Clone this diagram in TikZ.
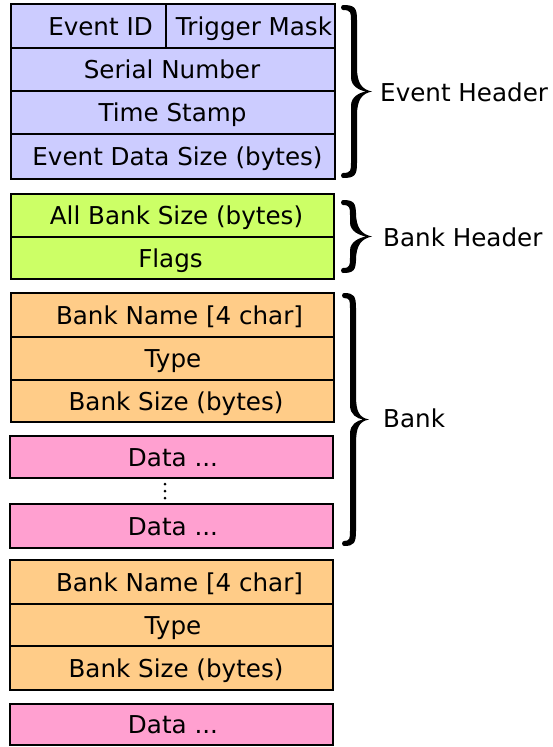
\documentclass[tikz,border=0pt]{standalone}
\usepackage{fontspec}
\setmainfont{DejaVu Sans}
\definecolor{evhead}{HTML}{CCCCFF}
\definecolor{bkhead}{HTML}{CCFF66}
\definecolor{bkfield}{HTML}{FFCC88}
\definecolor{bkdata}{HTML}{FFA0D0}
% A filled right-pointing curly brace, thick in the body, with rounded hook ends.
% #1 x of the hook ends, #2 x of the body centre, #3 x of the tip, #4 top y, #5 bottom y
\newcommand{\sidebrace}[5]{%
  \pgfmathsetmacro{\bym}{(#4+#5)/2}%
  \fill ({#1},{#4})
    .. controls ({#2+1},{#4}) and ({#2+3},{#4+3}) .. ({#2+3},{#4+15})
    -- ({#2+3},{\bym-24})
    .. controls ({#2+3},{\bym-8}) and ({#3-10},{\bym-2}) .. ({#3},{\bym})
    .. controls ({#3-10},{\bym+2}) and ({#2+3},{\bym+8}) .. ({#2+3},{\bym+24})
    -- ({#2+3},{#5-15})
    .. controls ({#2+3},{#5-3}) and ({#2+1},{#5}) .. ({#1},{#5})
    .. controls ({#1-2.5},{#5}) and ({#1-2.5},{#5-5}) .. ({#1},{#5-5})
    .. controls ({#2-3},{#5-5}) and ({#2-3},{#5-8}) .. ({#2-3},{#5-15})
    -- ({#2-3},{\bym+14})
    .. controls ({#2-3},{\bym+5}) and ({#3-12},{\bym+1}) .. ({#3-6},{\bym})
    .. controls ({#3-12},{\bym-1}) and ({#2-3},{\bym-5}) .. ({#2-3},{\bym-14})
    -- ({#2-3},{#4+15})
    .. controls ({#2-3},{#4+8}) and ({#2-3},{#4+5}) .. ({#1},{#4+5})
    .. controls ({#1-2.5},{#4+5}) and ({#1-2.5},{#4}) .. ({#1},{#4})
    -- cycle;}
\begin{document}
\begin{tikzpicture}[x=1pt,y=-1pt,
  cell/.style={draw=black, line width=2pt},
  % fields are placed by their baseline, 9pt below the middle of their row
  field/.style={font=\fontsize{24.6}{30}\selectfont, inner sep=0pt, anchor=base, yshift=-9pt},
  side/.style={field, anchor=base west}]
\useasboundingbox (0,0) rectangle (553,747);

% ---- event header ----
\path[cell, fill=evhead] (11,4) rectangle (335,179);
\draw[cell] (11,47.7) -- (335,47.7) (11,90.7) -- (335,90.7) (11,134) -- (335,134)
            (166,4) -- (166,47.7);
\node[field] (evid)  at (100.5,26)   {Event ID};
\node[field] (trig)  at (254,26)     {Trigger Mask};
\node[field] (ser)   at (172,69)     {Serial Number};
\node[field] (time)  at (172.5,112)  {Time Stamp};
\node[field] (esize) at (177.5,156.5){Event Data Size (bytes)};

% ---- bank header ----
\path[cell, fill=bkhead] (11,194) rectangle (334,279);
\draw[cell] (11,237) -- (334,237);
\node[field] (allsz) at (176.5,215.5) {All Bank Size (bytes)};
\node[field] (flags) at (170.5,258)   {Flags};

% ---- first bank ----
\path[cell, fill=bkfield] (11,293) rectangle (334,422);
\draw[cell] (11,337) -- (334,337) (11,380) -- (334,380);
\node[field] (bnameA) at (179.5,315)   {Bank Name [4 char]};
\node[field] (btypeA) at (173,358.5)   {Type};
\node[field] (bsizeA) at (176,401)     {Bank Size (bytes)};
\path[cell, fill=bkdata] (10,436) rectangle (333,478);
\node[field] (dataA) at (173,457) {Data ...};
\foreach \yy in {484,491,498} \fill (165,\yy) circle (1.5);
\path[cell, fill=bkdata] (10,504) rectangle (333,548);
\node[field] (dataB) at (173,526) {Data ...};

% ---- second bank ----
\path[cell, fill=bkfield] (10,560) rectangle (333,690);
\draw[cell] (10,604) -- (333,604) (10,646) -- (333,646);
\node[field] (bnameB) at (179.5,582) {Bank Name [4 char]};
\node[field] (btypeB) at (173,625)   {Type};
\node[field] (bsizeB) at (176,668)   {Bank Size (bytes)};
\path[cell, fill=bkdata] (10,704) rectangle (333,745);
\node[field] (dataC) at (173,724.5) {Data ...};

% ---- braces and their labels ----
\sidebrace{343}{354}{372}{5}{178}
\node[side] (lblev) at (380,92) {Event Header};
\sidebrace{343}{353}{372}{200}{273}
\node[side] (lblbh) at (383,237) {Bank Header};
\sidebrace{344}{353}{369}{293}{546}
\node[side] (lblbk) at (383,418) {Bank};
\end{tikzpicture}
\end{document}
